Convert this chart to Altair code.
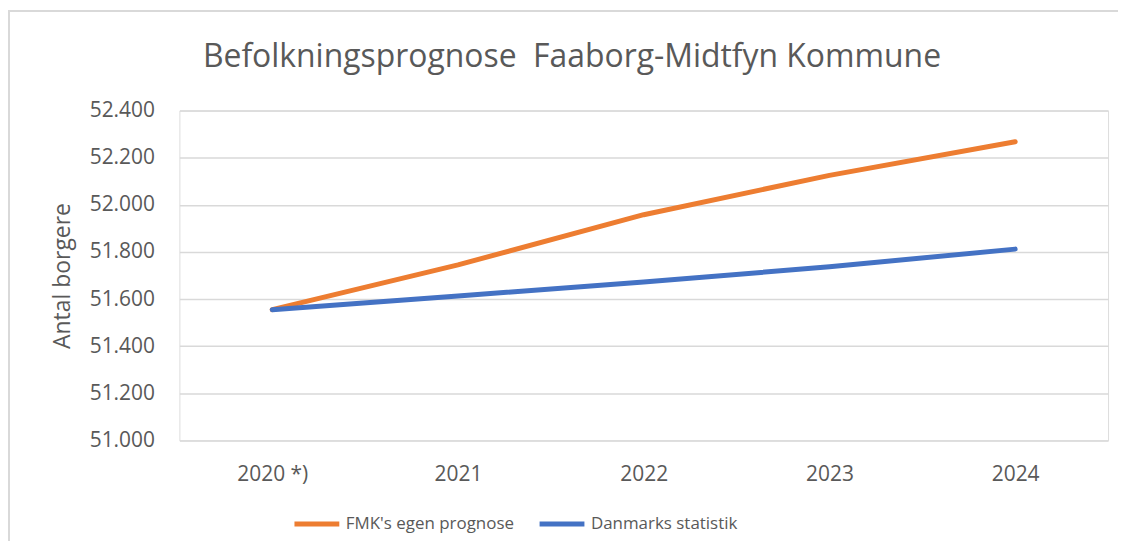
import altair as alt
import pandas as pd

years = ["2020 *)", "2021", "2022", "2023", "2024"]
fmk = [51555, 51745, 51958, 52125, 52268]
dst = [51555, 51613, 51672, 51737, 51812]
series_names = ["FMK's egen prognose", "Danmarks statistik"]
y_ticks = [51000, 51200, 51400, 51600, 51800, 52000, 52200, 52400]
chart_title = "Befolkningsprognose\u00a0 Faaborg-Midtfyn Kommune"

rows = []
for name, vals in zip(series_names, [fmk, dst]):
    for yr, v in zip(years, vals):
        rows.append({"År": yr, "Antal": v, "Serie": name})
df = pd.DataFrame(rows)

FONT = "Open Sans"
GRAY = "#595959"
W, H = 932, 331

lines = alt.Chart(df).mark_line(strokeWidth=5, strokeCap="round", strokeJoin="round").encode(
    x=alt.X("År:N", sort=years, title=None,
            scale=alt.Scale(paddingInner=0, paddingOuter=0.5),
            axis=alt.Axis(labelAngle=0, ticks=False, domain=False, labelFontSize=21,
                          labelFont=FONT, labelColor=GRAY, labelPadding=23, grid=False)),
    y=alt.Y("Antal:Q", title="Antal borgere",
            scale=alt.Scale(domain=[51000, 52400], nice=False, zero=False),
            axis=alt.Axis(values=y_ticks, ticks=False, domain=False, labelFontSize=21,
                          labelFont=FONT, labelColor=GRAY, labelPadding=25,
                          labelExpr="replace(format(datum.value, ',d'), ',', '.')",
                          gridColor="#D9D9D9", gridWidth=1.5,
                          titleFont=FONT, titleFontSize=23, titleColor=GRAY,
                          titleFontWeight="normal", titlePadding=15)),
    color=alt.Color("Serie:N", sort=series_names,
                    scale=alt.Scale(domain=series_names, range=["#ED7D31", "#4472C4"]),
                    legend=alt.Legend(title=None, orient="none", direction="horizontal",
                                      legendX=113, legendY=390, symbolType="stroke",
                                      symbolSize=2025, symbolStrokeWidth=5,
                                      labelFont=FONT, labelFontSize=17, labelColor=GRAY,
                                      labelOffset=4, columnPadding=15, labelLimit=400)),
    order=alt.Order("Serie:N", sort="descending"),
)

one = alt.Data(values=[{}])

border = alt.Chart(one).mark_rect(
    filled=False, stroke="#D9D9D9", strokeWidth=2, clip=False
).encode(
    x=alt.value(-171), x2=alt.value(W + 200), y=alt.value(-100), y2=alt.value(H + 300)
)

title = alt.Chart(one).mark_text(
    font=FONT, fontSize=32, color=GRAY, align="center", baseline="alphabetic"
).encode(
    x=alt.value(W / 2 - 72), y=alt.value(-44), text=alt.value(chart_title)
)

chart = alt.layer(border, lines, title).properties(
    width=W, height=H,
    autosize=alt.AutoSizeParams(type="none"),
    padding={"left": 172, "top": 102, "right": 10, "bottom": 100},
).configure_view(stroke=None).configure(background="white")

chart.save("out.html", embed_options={"renderer": "svg", "actions": False})
